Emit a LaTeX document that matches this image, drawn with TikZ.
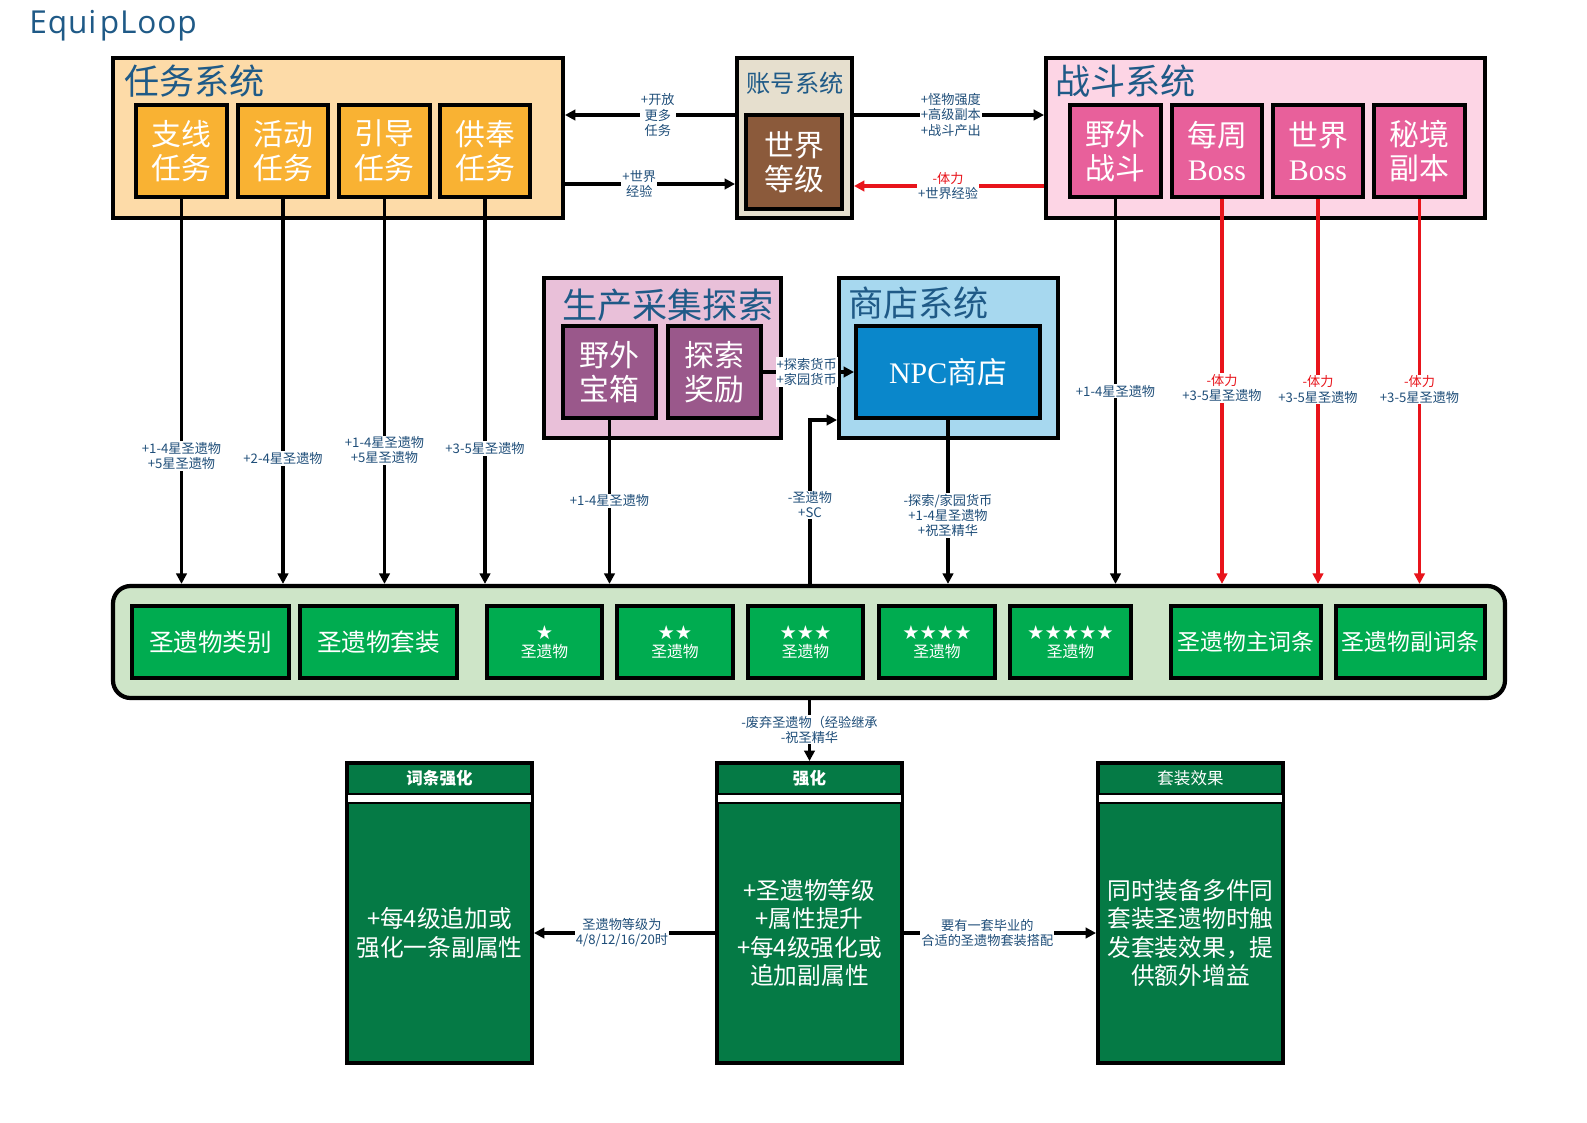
\documentclass[tikz,border=0pt]{standalone}
\usepackage{fontspec}
\setmainfont{Liberation Serif}
\newfontfamily\cjk{Noto Sans CJK SC}
\newfontfamily\titlefont{Open Sans}
\newfontfamily\symfont{DejaVu Sans}
\usetikzlibrary{arrows.meta,fit}

\definecolor{ttlblue}{HTML}{1F5A87}
\definecolor{lblblue}{HTML}{1F4E79}
\definecolor{taskbg}{HTML}{FDDBA8}
\definecolor{taskfg}{HTML}{F9B233}
\definecolor{acctbg}{HTML}{E6DFCE}
\definecolor{acctfg}{HTML}{8B5A3B}
\definecolor{fightbg}{HTML}{FDD5E5}
\definecolor{fightfg}{HTML}{E8609B}
\definecolor{prodbg}{HTML}{E9C0D9}
\definecolor{prodfg}{HTML}{9A588B}
\definecolor{shopbg}{HTML}{A7D8EF}
\definecolor{shopfg}{HTML}{0A87CB}
\definecolor{barbg}{HTML}{CEE5C8}
\definecolor{barfg}{HTML}{00AC50}
\definecolor{deepgreen}{HTML}{057A45}
\definecolor{lossred}{HTML}{E8141B}

\tikzset{
  panel/.style={draw=black, line width=2.2pt, inner sep=0pt},
  sub/.style={draw=black, line width=2.2pt, inner sep=0pt},
  subtxt/.style={inner sep=0pt, text=white, align=center,
    font=\cjk\fontsize{17}{19.6}\selectfont},
  ptitle/.style={anchor=west, inner sep=0pt, text=ttlblue, font=\cjk\fontsize{20}{22}\selectfont},
  chip/.style={draw=black, line width=2pt, fill=barfg, inner sep=0pt},
  chiptxt/.style={inner sep=0pt, text=white, align=center, font=\cjk\fontsize{14}{16}\selectfont},
  startxt/.style={chiptxt, font=\cjk\fontsize{9}{10.5}\selectfont},
  effbox/.style={draw=black, line width=2.2pt, fill=deepgreen, inner sep=0pt},
  effhead/.style={inner sep=0pt, text=white, font=\cjk\fontsize{9.4}{11}\selectfont},
  effbody/.style={inner sep=0pt, text=white, align=center, font=\cjk\fontsize{13.5}{16.2}\selectfont},
  arr/.style={line width=1.9pt, -{Triangle[length=6pt,width=6pt]}},
  redarr/.style={arr, draw=lossred},
  lbl/.style={fill=white, inner sep=0.6pt, text=lblblue, align=center,
    font=\cjk\fontsize{7.5}{8.6}\selectfont},
}

\begin{document}
\begin{tikzpicture}[x=0.02cm, y=-0.02cm]
\fill[white] (0,0) rectangle (1587,1123);
\useasboundingbox (0,0) rectangle (1587,1123);

% heading
\node[anchor=base west, inner sep=0pt, text=ttlblue, font=\titlefont\fontsize{18}{22}\selectfont] (heading) at (29,33) {E\kern0.5pt q\kern0.5pt u\kern0.5pt i\kern2pt p\kern0.5pt L\kern0.5pt o\kern0.5pt o\kern0.5pt p};

% quest system
\node[panel, fill=taskbg, fit={(113,58)(563,218)}] (task) {};
\node[ptitle] (tasktitle) at (124,81) {任务系统};
\node[sub, fill=taskfg, fit={(136,105)(227,197)}] (t1) {};
\node[sub, fill=taskfg, fit={(238,105)(328,197)}] (t2) {};
\node[sub, fill=taskfg, fit={(339,105)(430,197)}] (t3) {};
\node[sub, fill=taskfg, fit={(440,105)(530,197)}] (t4) {};
\node[subtxt] (t1txt) at (t1) {支线\\任务};
\node[subtxt] (t2txt) at (t2) {活动\\任务};
\node[subtxt] (t3txt) at (t3) {引导\\任务};
\node[subtxt] (t4txt) at (t4) {供奉\\任务};

% account system
\node[panel, fill=acctbg, fit={(737,58)(852,218)}] (acct) {};
\node[inner sep=0pt, text=ttlblue, font=\cjk\fontsize{13.8}{16}\selectfont] (accttitle) at (795,83) {账号系统};
\node[sub, fill=acctfg, fit={(746,115)(842,209)}] (wlevel) {};
\node[subtxt] (wleveltxt) at (wlevel) {世界\\等级};

% combat system
\node[panel, fill=fightbg, fit={(1046,58)(1485,218)}] (fight) {};
\node[ptitle] (fighttitle) at (1055,81) {战斗系统};
\node[sub, fill=fightfg, fit={(1070,105)(1161,197)}] (f1) {};
\node[sub, fill=fightfg, fit={(1172,105)(1262,197)}] (f2) {};
\node[sub, fill=fightfg, fit={(1273,105)(1363,197)}] (f3) {};
\node[sub, fill=fightfg, fit={(1374,105)(1465,197)}] (f4) {};
\node[subtxt] (f1txt) at (f1) {野外\\战斗};
\node[subtxt] (f2txt) at (f2) {每周\\{\rmfamily Boss}};
\node[subtxt] (f3txt) at (f3) {世界\\{\rmfamily Boss}};
\node[subtxt] (f4txt) at (f4) {秘境\\副本};

% gathering / exploration
\node[panel, fill=prodbg, fit={(544,278)(781,438)}] (prod) {};
\node[ptitle] (prodtitle) at (562,305) {生产采集探索};
\node[sub, fill=prodfg, fit={(563,326)(656,418)}] (p1) {};
\node[sub, fill=prodfg, fit={(668,326)(761,418)}] (p2) {};
\node[subtxt] (p1txt) at (p1) {野外\\宝箱};
\node[subtxt] (p2txt) at (p2) {探索\\奖励};

% shop system
\node[panel, fill=shopbg, fit={(839,278)(1058,438)}] (shop) {};
\node[ptitle] (shoptitle) at (848,303) {商店系统};
\node[sub, fill=shopfg, fit={(856,326)(1040,418)}] (npc) {};
\node[subtxt] (npctxt) at (npc) {{\rmfamily NPC}商店};

% artifact bar
\node[draw=black, line width=2.4pt, rounded corners=10pt, fill=barbg, inner sep=0pt, fit={(113,586)(1505,698)}] (bar) {};
\node[chip, fit={(132,606)(289,678)}] (c1) {};
\node[chip, fit={(300,606)(457,678)}] (c2) {};
\node[chip, fit={(487,606)(602,678)}] (s1) {};
\node[chip, fit={(617,606)(733,678)}] (s2) {};
\node[chip, fit={(748,606)(863,678)}] (s3) {};
\node[chip, fit={(879,606)(995,678)}] (s4) {};
\node[chip, fit={(1010,606)(1131,678)}] (s5) {};
\node[chip, fit={(1171,606)(1321,678)}] (c3) {};
\node[chip, fit={(1336,606)(1485,678)}] (c4) {};
\node[chiptxt] (c1txt) at (c1) {圣遗物类别};
\node[chiptxt] (c2txt) at (c2) {圣遗物套装};
\node[startxt] (s1txt) at (s1) {{\symfont\fontsize{11}{10.5}\selectfont ★}\\圣遗物};
\node[startxt] (s2txt) at (s2) {{\symfont\fontsize{11}{10.5}\selectfont ★★}\\圣遗物};
\node[startxt] (s3txt) at (s3) {{\symfont\fontsize{11}{10.5}\selectfont ★★★}\\圣遗物};
\node[startxt] (s4txt) at (s4) {{\symfont\fontsize{11}{10.5}\selectfont ★★★★}\\圣遗物};
\node[startxt] (s5txt) at (s5) {{\symfont\fontsize{11}{10.5}\selectfont ★★★★★}\\圣遗物};
\node[chiptxt, font=\cjk\fontsize{13}{15}\selectfont] (c3txt) at (c3) {圣遗物主词条};
\node[chiptxt, font=\cjk\fontsize{13}{15}\selectfont] (c4txt) at (c4) {圣遗物副词条};

% effect boxes
\foreach \nm/\xa/\xb in {boxaffix/347/532, boxlevel/717/902, boxset/1098/1283}{
  \node[effbox, fit={(\xa,763)(\xb,1063)}] (\nm) {};
  \draw[line width=1.5pt, fill=white] (\xa,794) rectangle (\xb,803);
}
\node[effhead, font=\cjk\bfseries\fontsize{9.4}{11}\selectfont] (hdaffix) at (439.5,778) {词条强化};
\node[effhead, font=\cjk\bfseries\fontsize{9.4}{11}\selectfont] (hdlevel) at (809.5,778) {强化};
\node[effhead] (hdset) at (1190.5,778) {套装效果};
\node[effbody] (bdaffix) at (439.5,933) {+每4级追加或\\强化一条副属性};
\node[effbody] (bdlevel) at (809.5,933) {+圣遗物等级\\+属性提升\\+每4级强化或\\追加副属性};
\node[effbody] (bdset) at (1190.5,933) {同时装备多件同\\套装圣遗物时触\\发套装效果，提\\供额外增益};

% account <-> quest / combat
\draw[arr] (acct.west |- 0,115) -- (task.east |- 0,115)
  node[lbl, pos=0.454] {+开放\\更多\\任务};
\draw[arr] (task.east |- 0,184) -- (acct.west |- 0,184)
  node[lbl, pos=0.437] {+世界\\经验};
\draw[arr] (acct.east |- 0,115) -- (fight.west |- 0,115)
  node[lbl, pos=0.51] {+怪物强度\\+高级副本\\+战斗产出};
\draw[redarr] (fight.west |- 0,186) -- (acct.east |- 0,186)
  node[lbl, pos=0.505] {{\color{lossred}-体力}\\+世界经验};

% quests feed artifacts
\draw[arr] (t1.south) -- (t1.south |- bar.north)
  node[lbl, pos=0.668] {+1-4星圣遗物\\+5星圣遗物};
\draw[arr] (t2.south) -- (t2.south |- bar.north)
  node[lbl, pos=0.674] {+2-4星圣遗物};
\draw[arr] (t3.south) -- (t3.south |- bar.north)
  node[lbl, pos=0.653] {+1-4星圣遗物\\+5星圣遗物};
\draw[arr] (t4.south) -- (t4.south |- bar.north)
  node[lbl, pos=0.648] {+3-5星圣遗物};

% gathering and shop
\draw[arr] (p1.south) -- (p1.south |- bar.north)
  node[lbl, pos=0.494] {+1-4星圣遗物};
\draw[arr] (p2.east) -- (npc.west)
  node[lbl, pos=0.48] {+探索货币\\+家园货币};
\draw[arr] (bar.north -| 810,0) |- (shop.west |- 0,420)
  node[lbl, pos=0.241] {-圣遗物\\+SC};
\draw[arr] (npc.south) -- (npc.south |- bar.north)
  node[lbl, pos=0.583] {-探索/家园货币\\+1-4星圣遗物\\+祝圣精华};

% combat feeds artifacts
\draw[arr] (f1.south) -- (f1.south |- bar.north)
  node[lbl, pos=0.499] {+1-4星圣遗物};
\draw[redarr] (f2.south -| 1222,0) -- (bar.north -| 1222,0)
  node[lbl, pos=0.491] {{\color{lossred}-体力}\\+3-5星圣遗物};
\draw[redarr] (f3.south) -- (f3.south |- bar.north)
  node[lbl, pos=0.495] {{\color{lossred}-体力}\\+3-5星圣遗物};
\draw[redarr] (f4.south) -- (f4.south |- bar.north)
  node[lbl, pos=0.495] {{\color{lossred}-体力}\\+3-5星圣遗物};

% upgrading
\draw[arr] (bar.south -| boxlevel.north) -- (boxlevel.north)
  node[lbl, pos=0.485] {-废弃圣遗物（经验继承\\-祝圣精华};
\draw[arr] (boxlevel.west |- 0,933) -- (boxaffix.east |- 0,933)
  node[lbl, pos=0.514] {圣遗物等级为\\4/8/12/16/20时};
\draw[arr] (boxlevel.east |- 0,933) -- (boxset.west |- 0,933)
  node[lbl, pos=0.434] {要有一套毕业的\\合适的圣遗物套装搭配};
\end{tikzpicture}
\end{document}
